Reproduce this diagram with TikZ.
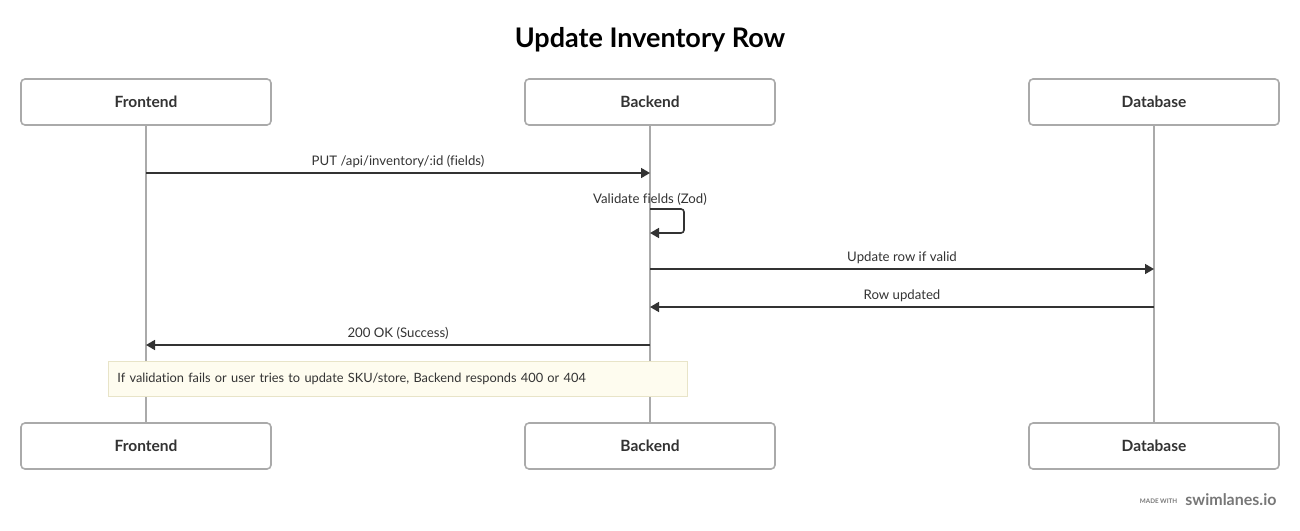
\documentclass[tikz,border=0pt]{standalone}
\usepackage{fontspec}
\setmainfont{Lato}[Ligatures=NoCommon]
\usetikzlibrary{arrows.meta}

\definecolor{lifegray}{HTML}{AAAAAA}
\definecolor{msgdark}{HTML}{333333}
\definecolor{notefill}{HTML}{FEFCEF}
\definecolor{notedraw}{HTML}{E8E4C8}
\definecolor{markgray}{HTML}{777777}

\tikzset{
  actor/.style={draw=lifegray, line width=1.6pt, rounded corners=4pt, fill=white,
    minimum width=250pt, minimum height=46pt, text=msgdark,
    font=\fontsize{15.5}{17}\selectfont\bfseries},
  life/.style={draw=lifegray, line width=1.6pt},
  msg/.style={draw=msgdark, line width=1.6pt, -{Triangle[length=9pt,width=10pt]}},
  msglabel/.style={text=msgdark, font=\fontsize{13.2}{15}\selectfont},
  note/.style={draw=notedraw, fill=notefill, line width=0.8pt, anchor=north west,
    text width=561pt, minimum height=35pt, inner xsep=9pt, align=left,
    text=msgdark, font=\fontsize{12.8}{14}\selectfont}
}

\begin{document}
\begin{tikzpicture}[x=1pt, y=-1pt]

\useasboundingbox (0,0) rectangle (1300,530);

% --- Title ---
\node[text=black, font=\fontsize{27}{32}\selectfont\bfseries] (title) at (650,39.5)
  {Update Inventory Row};

% ============================================================
% Lifelines (behind everything)
% ============================================================
\draw[life] (146,125) -- (146,423);
\draw[life] (650,125) -- (650,423);
\draw[life] (1154,125) -- (1154,423);

% ============================================================
% Participant boxes, top and bottom
% ============================================================
\node[actor] (fe) at (146,102) {Frontend};
\node[actor] (be) at (650,102) {Backend};
\node[actor] (db) at (1154,102) {Database};

\node[actor] (feB) at (146,446) {Frontend};
\node[actor] (beB) at (650,446) {Backend};
\node[actor] (dbB) at (1154,446) {Database};

% ============================================================
% Message points on the lifelines
% ============================================================
\coordinate (fe1) at (146,173);
\coordinate (be1) at (650,173);
\coordinate (be2) at (650,209);
\coordinate (be3) at (650,233);
\coordinate (be4) at (650,269);
\coordinate (db4) at (1154,269);
\coordinate (db5) at (1154,307);
\coordinate (be5) at (650,307);
\coordinate (be6) at (650,345);
\coordinate (fe6) at (146,345);

% ============================================================
% Messages
% ============================================================
\draw[msg] (fe1) -- (be1)
  node[msglabel, midway, above=1.5pt] (m1) {PUT /api/inventory/:id (fields)};

% self call on the backend
\node[msglabel] (m2) at (650,199) {Validate fields (Zod)};
\draw[msg, rounded corners=3pt] (be2) -- ++(34,0) -- ++(0,24) -- (be3);

\draw[msg] (be4) -- (db4)
  node[msglabel, midway, above=1.5pt] (m3) {Update row if valid};
\draw[msg] (db5) -- (be5)
  node[msglabel, midway, above=1.5pt] (m4) {Row updated};
\draw[msg] (be6) -- (fe6)
  node[msglabel, midway, above=1.5pt] (m5) {200 OK (Success)};

% ============================================================
% Note over Frontend and Backend
% ============================================================
\node[note] (err) at (108,361)
  {If validation fails or user tries to update SKU/store, Backend responds 400 or 404};

% --- watermark ---
\node[text=markgray, font=\fontsize{16}{18}\selectfont\bfseries, anchor=east]
  (brand) at (1280,500) {swimlanes.io};
\node[text=markgray, font=\fontsize{6.3}{7}\selectfont\bfseries, anchor=east]
  (made) at ([xshift=-1pt,yshift=-1pt]brand.west) {MADE WITH};

\end{tikzpicture}
\end{document}
